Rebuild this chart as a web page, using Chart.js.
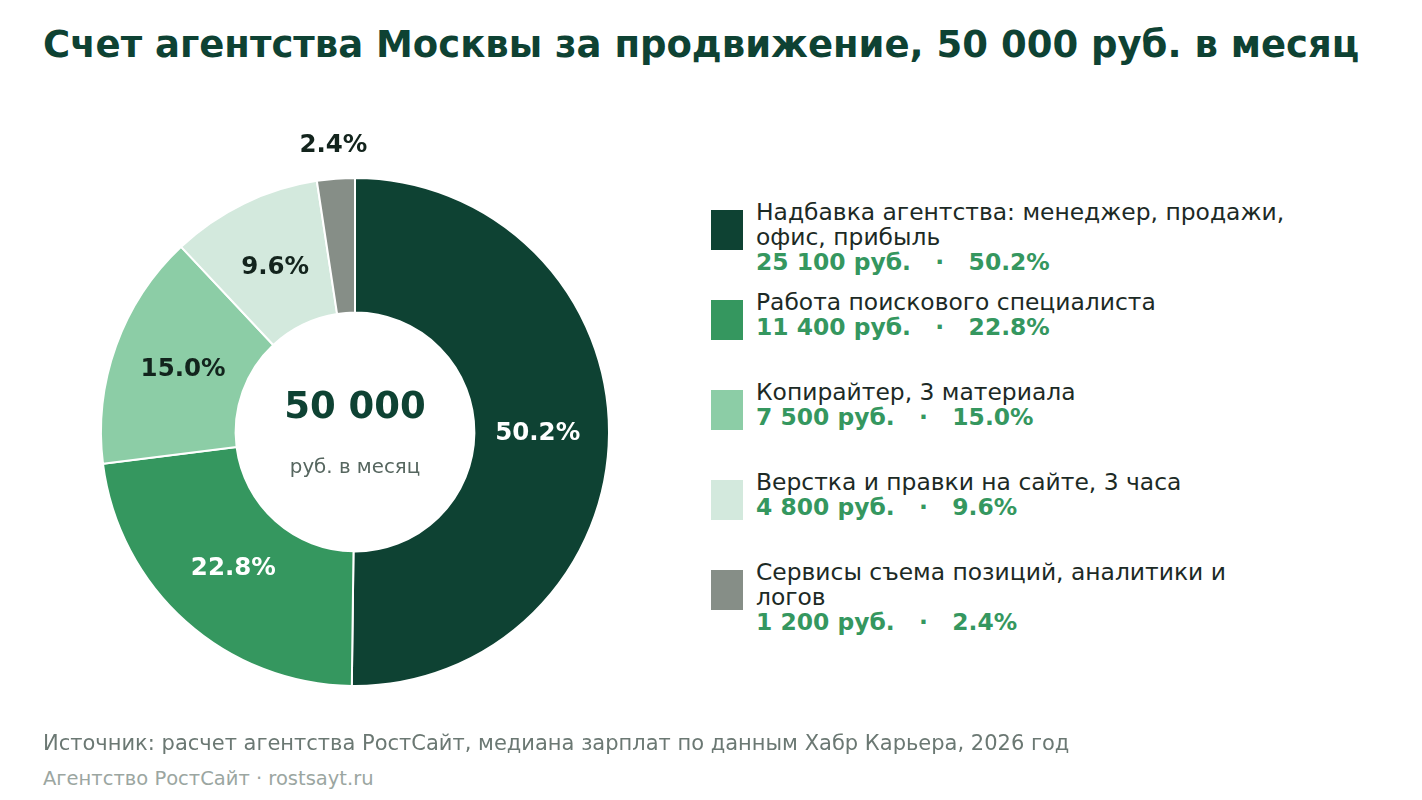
<!DOCTYPE html>
<html>
<head>
<meta charset="utf-8">
<script src="https://cdn.jsdelivr.net/npm/chart.js@4"></script>
<style>
  html, body { margin: 0; padding: 0; background: #fff; }
  body { width: 1422px; height: 800px; position: relative; overflow: hidden; font-family: "DejaVu Sans", sans-serif; }
  #title { position: absolute; left: 43px; top: 23px; font-size: 37px; font-weight: bold; color: #0e4233; white-space: nowrap; }
  #wrap { position: absolute; left: 0; top: 100px; width: 710px; height: 664px; }
  #legend { position: absolute; left: 711px; top: 200px; }
  .item { position: relative; height: 90px; }
  .sw { position: absolute; left: 0; top: 10px; width: 32px; height: 40px; }
  .txt { position: absolute; left: 45px; top: 0; width: 540px; font-size: 23.4px; line-height: 25px; color: #1c2a25; }
  .val { font-weight: bold; color: #35975f; white-space: pre; }
  #src { position: absolute; left: 43px; top: 731px; font-size: 21px; color: #6b7873; white-space: nowrap; }
  #brand { position: absolute; left: 43px; top: 767px; font-size: 19.5px; color: #9ba6a1; white-space: nowrap; }
</style>
</head>
<body>
<div id="title">Счет агентства Москвы за продвижение, 50 000 руб. в месяц</div>
<div id="wrap"><canvas id="pie"></canvas></div>
<div id="legend"></div>
<div id="src">Источник: расчет агентства РостСайт, медиана зарплат по данным Хабр Карьера, 2026 год</div>
<div id="brand">Агентство РостСайт · rostsayt.ru</div>
<script>
const categories = [
  'Надбавка агентства: менеджер, продажи, офис, прибыль',
  'Работа поискового специалиста',
  'Копирайтер, 3 материала',
  'Верстка и правки на сайте, 3 часа',
  'Сервисы съема позиций, аналитики и логов'
];
const costs = [25100, 11400, 7500, 4800, 1200];
const colors = ['#0e4233', '#35975f', '#8ccda6', '#d3e9dd', '#868e87'];
const labelColors = ['#ffffff', '#ffffff', '#13241d', '#13241d', '#13241d'];

const total = costs.reduce((a, b) => a + b, 0);
const pct = v => (v / total * 100).toFixed(1) + '%';
const rub = v => String(v).replace(/\B(?=(\d{3})+(?!\d))/g, ' ');

// legend
const legend = document.getElementById('legend');
categories.forEach((name, i) => {
  const div = document.createElement('div');
  div.className = 'item';
  div.innerHTML = `
    <div class="sw" style="background:${colors[i]}"></div>
    <div class="txt">${name}<br><span class="val">${rub(costs[i])} руб.   ·   ${pct(costs[i])}</span></div>
  `;
  legend.appendChild(div);
});

// slice labels + center text
const labelsPlugin = {
  id: 'sliceLabels',
  afterDatasetsDraw(chart) {
    const ctx = chart.ctx;
    const meta = chart.getDatasetMeta(0);
    ctx.save();
    ctx.textAlign = 'center';
    ctx.textBaseline = 'middle';
    meta.data.forEach((arc, i) => {
      const p = arc.getProps(['x', 'y', 'startAngle', 'endAngle', 'innerRadius', 'outerRadius'], true);
      const mid = (p.startAngle + p.endAngle) / 2;
      const small = costs[i] / total < 0.05;
      const r = small ? p.outerRadius + 33 : (p.innerRadius + p.outerRadius) / 2 - 4;
      ctx.font = 'bold 24.5px "DejaVu Sans"';
      ctx.fillStyle = small ? '#13241d' : labelColors[i];
      ctx.fillText(pct(costs[i]), p.x + Math.cos(mid) * r, p.y + Math.sin(mid) * r);
    });
    const c = meta.data[0];
    ctx.fillStyle = '#0e4233';
    ctx.font = 'bold 37px "DejaVu Sans"';
    ctx.fillText(rub(total), c.x, c.y - 24);
    ctx.fillStyle = '#56665f';
    ctx.font = '19.8px "DejaVu Sans"';
    ctx.fillText('руб. в месяц', c.x, c.y + 36);
    ctx.restore();
  }
};

new Chart(document.getElementById('pie'), {
  type: 'doughnut',
  data: {
    labels: categories,
    datasets: [{
      data: costs,
      backgroundColor: colors,
      borderColor: '#ffffff',
      borderWidth: 2
    }]
  },
  options: {
    responsive: true,
    maintainAspectRatio: false,
    animation: false,
    cutout: '47%',
    layout: { padding: { top: 77, bottom: 77, left: 100, right: 100 } },
    plugins: { legend: { display: false }, tooltip: { enabled: false } }
  },
  plugins: [labelsPlugin]
});
</script>
</body>
</html>
